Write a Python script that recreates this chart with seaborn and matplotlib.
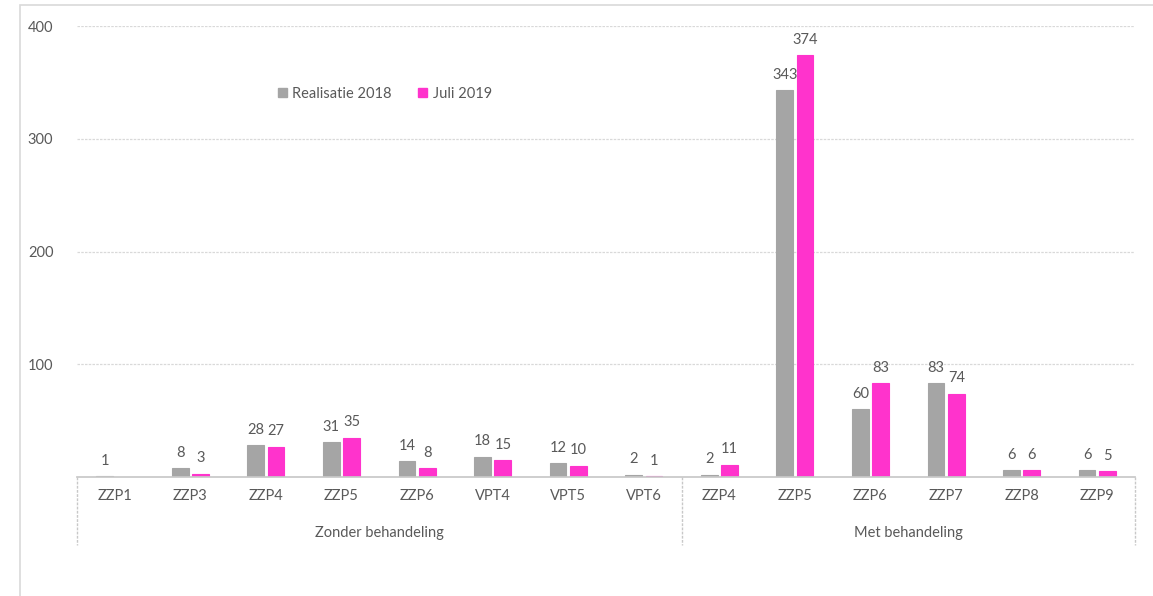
import numpy as np
import pandas as pd
import matplotlib
matplotlib.use("Agg")
import matplotlib.pyplot as plt
import seaborn as sns
from matplotlib.lines import Line2D

# Data
groups = ["Zonder behandeling", "Met behandeling"]
cats_zonder = ["ZZP1", "ZZP3", "ZZP4", "ZZP5", "ZZP6", "VPT4", "VPT5", "VPT6"]
cats_met = ["ZZP4", "ZZP5", "ZZP6", "ZZP7", "ZZP8", "ZZP9"]
real_2018 = [1, 8, 28, 31, 14, 18, 12, 2, 2, 343, 60, 83, 6, 6]
juli_2019 = [np.nan, 3, 27, 35, 8, 15, 10, 1, 11, 374, 83, 74, 6, 5]
series = ["Realisatie 2018", "Juli 2019"]
colors = ["#A5A5A5", "#FF33CC"]

labels = cats_zonder + cats_met
keys = [f"{i}_{c}" for i, c in enumerate(labels)]

df = pd.DataFrame({
    "key": keys * 2,
    "serie": [series[0]] * len(keys) + [series[1]] * len(keys),
    "waarde": real_2018 + juli_2019,
})

sns.set_theme(style="white")
plt.rcParams["font.family"] = ["Lato", "DejaVu Sans"]
txt = "#595959"

fig = plt.figure(figsize=(11.53, 5.96), dpi=100)
fig.patches.append(plt.Rectangle((20 / 1153, -0.01), 1.1, 1 - 5 / 596 + 0.01,
                                 transform=fig.transFigure, fill=False,
                                 edgecolor="#D9D9D9", lw=1.2))
ax = fig.add_axes([77 / 1153, 119 / 596, 1058 / 1153, 451 / 596])

sns.barplot(data=df, x="key", y="waarde", hue="serie", order=keys,
            hue_order=series, palette=colors, width=0.54, gap=0.18,
            saturation=1, ax=ax, legend=False)

# thin outline so the very small bars stay visible, like in the original
for c, col in zip(ax.containers, colors):
    for p in c:
        p.set_edgecolor(col)
        p.set_linewidth(0.8)
    ax.bar_label(c, fmt="%.0f", padding=6, fontsize=10.5, color=txt)

ax.set_xlim(-0.5, len(keys) - 0.5)
ax.set_ylim(0, 400)
ax.set_yticks([100, 200, 300, 400])
ax.tick_params(axis="y", length=0, pad=17, labelsize=10.5, labelcolor=txt)
ax.yaxis.grid(True, color="#D9D9D9", linestyle=(0, (2, 1)), lw=0.9)
ax.set_axisbelow(True)
for s in ["top", "right", "left"]:
    ax.spines[s].set_visible(False)
ax.spines["bottom"].set_color("#C8C8C8")
ax.spines["bottom"].set_linestyle((0, (2, 1)))

ax.set_xticks(range(len(keys)))
ax.set_xticklabels(labels)
ax.tick_params(axis="x", length=0, pad=9, labelsize=10.5, labelcolor=txt)
ax.set_xlabel("")
ax.set_ylabel("")

# group labels and separators below the axis
trans = ax.get_xaxis_transform()
n1 = len(cats_zonder)
for xpos in [-0.5, n1 - 0.5, len(keys) - 0.5]:
    ax.add_line(Line2D([xpos, xpos], [0, -68 / 451], transform=trans,
                       color="#C8C8C8", lw=1, linestyle=(0, (2, 1)),
                       clip_on=False))
ax.text((n1 - 1) / 2, -56 / 451, groups[0], transform=trans, ha="center",
        va="center", fontsize=10.5, color=txt)
ax.text(n1 + (len(cats_met) - 1) / 2, -56 / 451, groups[1], transform=trans,
        ha="center", va="center", fontsize=10.5, color=txt)

handles = [plt.Rectangle((0, 0), 1, 1, color=col) for col in colors]
ax.legend(handles, series, loc="center", bbox_to_anchor=(0.291, 0.85),
          ncol=2, frameon=False, fontsize=10.5, handlelength=0.6,
          handleheight=0.6, handletextpad=0.4, columnspacing=1.8,
          labelcolor=txt)

fig.savefig("out.png", dpi=100)
